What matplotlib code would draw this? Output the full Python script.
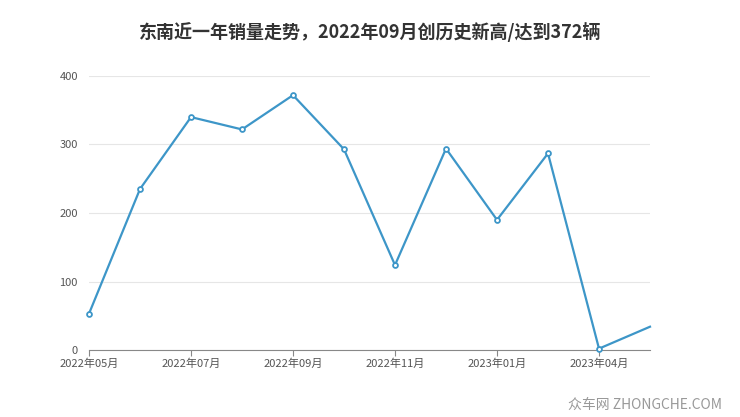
import matplotlib
matplotlib.use("Agg")
import matplotlib.pyplot as plt

plt.rcParams['font.family'] = ['Noto Sans CJK SC', 'DejaVu Sans']

months = ["2022年05月","2022年06月","2022年07月","2022年08月","2022年09月","2022年10月",
          "2022年11月","2022年12月","2023年01月","2023年02月","2023年04月","2023年05月"]
sales = [53, 235, 340, 322, 372, 293, 124, 294, 190, 287, 2, 34]
yticks = [0, 100, 200, 300, 400]

fig = plt.figure(figsize=(7.4, 4.17), dpi=100)
ax = fig.add_axes([89/740, 67/417, 561/740, 274/417])
x = list(range(len(months)))
color = "#3d96c8"
ax.plot(x, sales, color=color, lw=1.6, clip_on=False, zorder=3)
ax.plot(x[:-1], sales[:-1], 'o', ms=3.5, mfc='white', mec=color, mew=1.3, clip_on=False, zorder=4)
ax.set_xlim(0, len(months)-1)
ax.set_ylim(0, 400)
ax.set_yticks(yticks)
ax.set_yticklabels([str(v) for v in yticks], fontsize=8, color="#555555")
tick_idx = [0, 2, 4, 6, 8, 10]
ax.set_xticks(tick_idx)
ax.set_xticklabels([months[i] for i in tick_idx], fontsize=8, color="#555555")
ax.grid(axis='y', color="#e6e6e6", lw=0.8)
ax.set_axisbelow(True)
for s in ['top', 'right', 'left']:
    ax.spines[s].set_visible(False)
ax.spines['bottom'].set_color("#888888")
ax.tick_params(axis='y', length=0, pad=8)
ax.tick_params(axis='x', length=4, color="#888888", pad=2)
fig.text(0.5, 385/417, "东南近一年销量走势，2022年09月创历史新高/达到372辆",
         ha='center', va='center', fontsize=13, fontweight='bold', color="#333333")
fig.text(0.975, 12/417, "众车网 ZHONGCHE.COM", ha='right', va='center',
         fontsize=10, color="#999999")
fig.savefig("out.png", dpi=100)
